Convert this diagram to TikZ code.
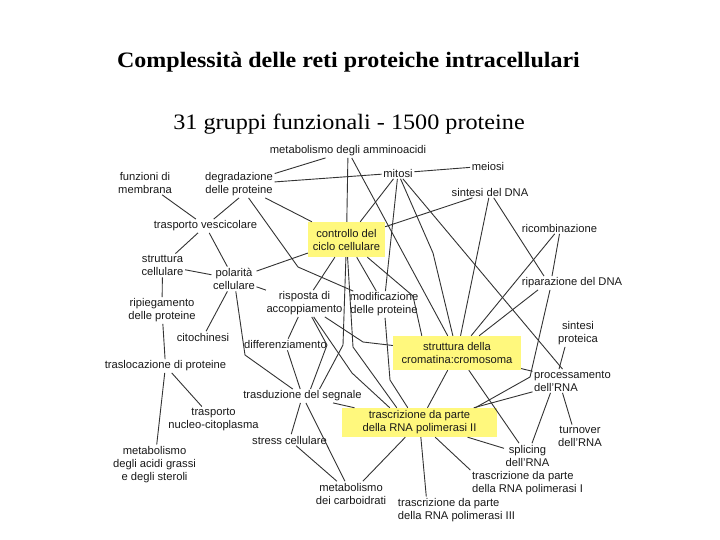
\documentclass[tikz,border=0pt]{standalone}
\usepackage{fontspec}
\usepackage{graphicx}
\setmainfont{Liberation Serif}
\newfontfamily\lsans{Liberation Sans}
\usetikzlibrary{calc}
\definecolor{boxyellow}{RGB}{255,248,125}
\newcommand\labfont{\lsans\fontsize{11.2bp}{13bp}\selectfont}
\begin{document}
\begin{tikzpicture}[x=1bp,y=-1bp,
  lbl/.style={font=\labfont, align=center, inner sep=1.5bp, text=black!90},
  lbll/.style={lbl, align=left},
  hl/.style={lbl, fill=boxyellow, inner sep=0pt},
  conn/.style={draw=black!80, line width=0.9bp}]
\useasboundingbox[fill=white] (0,0) rectangle (720,540);

% titles
\node[font=\fontsize{22bp}{26bp}\selectfont\bfseries, anchor=base] (title) at (348.5,68) {\scalebox{1.09}[1]{Complessità delle reti proteiche intracellulari}};
\node[font=\fontsize{22bp}{26bp}\selectfont, anchor=base] (subtitle) at (349,130) {\scalebox{1.1}[1]{31 gruppi funzionali - 1500 proteine}};

% nodes
\node[lbl] (metaa) at (348,151) {metabolismo degli amminoacidi};
\node[lbl] (funz) at (145,182.5) {funzioni di\\membrana};
\node[lbl] (degr) at (239,184.5) {degradazione\\delle proteine};
\node[lbl] (mitosi) at (398,173) {mitosi};
\node[lbl] (meiosi) at (488,166) {meiosi};
\node[lbl] (sdna) at (490,192) {sintesi del DNA};
\node[lbl] (trv) at (205.5,226) {trasporto vescicolare};
\node[lbl] (ricomb) at (559.5,228) {ricombinazione};
\node[hl, minimum width=77bp, minimum height=35bp] (ctrl) at (346.5,239.5) {controllo del\\ciclo cellulare};
\node[lbl] (strc) at (162.5,265.5) {struttura\\cellulare};
\node[lbl] (pol) at (234,279) {polarità\\cellulare};
\node[lbl] (ripar) at (572,283) {riparazione del DNA};
\node[lbl] (risp) at (304.5,303.5) {risposta di\\accoppiamento};
\node[lbl] (modif) at (384,304.5) {modificazione\\delle proteine};
\node[lbl] (ripieg) at (162,310.5) {ripiegamento\\delle proteine};
\node[lbl] (sprot) at (578,333.5) {sintesi\\proteica};
\node[lbl] (cito) at (203,337) {citochinesi};
\node[lbl] (diff) at (285.5,344.5) {differenziamento};
\node[hl, minimum width=128bp, minimum height=34bp] (crom) at (457,353) {struttura della\\cromatina:cromosoma};
\node[lbl] (trasl) at (165.5,366) {traslocazione di proteine};
\node[lbll] (proc) at (572.5,381) {processamento\\dell’RNA};
\node[lbl] (trasd) at (302.5,396) {trasduzione del segnale};
\node[lbl] (nucleo) at (213.5,419.5) {trasporto\\nucleo-citoplasma};
\node[hl, minimum width=155bp, minimum height=29bp] (trII) at (419.5,422.5) {trascrizione da parte\\della RNA polimerasi II};
\node[lbl] (turn) at (580,436.5) {turnover\\dell’RNA};
\node[lbl] (stress) at (289.5,440) {stress cellulare};
\node[lbl] (acidi) at (154.5,464.5) {metabolismo\\degli acidi grassi\\e degli steroli};
\node[lbl] (splic) at (527.5,455.5) {splicing\\dell’RNA};
\node[lbll] (trI) at (527.5,483.5) {trascrizione da parte\\della RNA polimerasi I};
\node[lbl] (carb) at (351,493.5) {metabolismo\\dei carboidrati};
\node[lbll] (trIII) at (456.5,510) {trascrizione da parte\\della RNA polimerasi III};

% bend points
\coordinate (b6) at (298,267);
\coordinate (b14) at (245,355);
\coordinate (b22) at (433,253);
\coordinate (b30) at (530,377);
\coordinate (b32) at (413,296);
\coordinate (b33) at (343,345);
\coordinate (b34) at (353,347);
\coordinate (b36) at (363,342);
\coordinate (b38) at (327,345);
\coordinate (b39) at (352,373);
\coordinate (b40) at (390,380);

% connectors
\draw[conn] (metaa) -- (degr);
\draw[conn] (mitosi) -- (degr);
\draw[conn] (funz) -- (trv);
\draw[conn] (degr.south) -- (trv);
\draw[conn] (degr) -- (ctrl);
\draw[conn] (degr) -- (b6) -- (modif);
\draw[conn] (trv) -- (strc);
\draw[conn] (trv) -- (pol);
\draw[conn] (strc) -- (pol);
\draw[conn] (pol) -- (ctrl);
\draw[conn] (pol) -- (risp);
\draw[conn] (strc) -- (ripieg);
\draw[conn] (pol) -- (cito);
\draw[conn] (pol) -- (b14) -- (trasd);
\draw[conn] (ctrl) -- (risp);
\draw[conn] (ripieg) -- (trasl);
\draw[conn] (metaa) -- (ctrl);
\draw[conn] (metaa) -- (crom);
\draw[conn] (mitosi) -- (meiosi);
\draw[conn] (mitosi) -- (ctrl);
\draw[conn] (mitosi) -- (modif);
\draw[conn] (mitosi) -- (b22) -- (crom);
\draw[conn] (mitosi) -- (proc);
\draw[conn] (sdna) -- (ctrl);
\draw[conn] (sdna) -- (crom);
\draw[conn] (sdna) -- ($(ripar.north)+(-28,0)$);
\draw[conn] (ricomb) -- (crom);
\draw[conn] (ricomb.south) -- ($(ripar.north)+(-20,0)$);
\draw[conn] ($(ripar.south)+(-34,0)$) -- (crom);
\draw[conn] ($(ripar.south)+(-22,0)$) -- (b30) -- ($(trII.north east)+(-22,0)$);
\draw[conn] (ctrl) -- (modif);
\draw[conn] (ctrl) -- (b32) -- ($(crom.north west)+(29,0)$);
\draw[conn] (ctrl) -- (b33) -- ($(trasd.north)+(17,0)$);
\draw[conn] (ctrl) -- (b34) -- ($(trII.north west)+(55,0)$);
\draw[conn] (risp) -- (b36) -- (crom);
\draw[conn] (risp) -- (diff);
\draw[conn] (risp) -- (b38) -- ($(trasd.north)+(8,0)$);
\draw[conn] (risp) -- (b39) -- ($(trII.north west)+(48,0)$);
\draw[conn] (modif) -- (b40) -- ($(trII.north west)+(66,0)$);
\draw[conn] (diff) -- (trasd);
\draw[conn] (trasd) -- (stress);
\draw[conn] (trasd) -- (carb);
\draw[conn] (stress) -- (carb);
\draw[conn] (trasd) -- (trII);
\draw[conn] (carb) -- (trII);
\draw[conn] (trII) -- ($(trIII.north west)+(30,0)$);
\draw[conn] (trII) -- (trI.north west);
\draw[conn] (trII) -- (splic);
\draw[conn] (crom) -- (trII);
\draw[conn] (crom) -- (splic);
\draw[conn] (crom) -- (proc);
\draw[conn] ($(proc.north)+(-13.5,0)$) -- ($(sprot.south)+(-13,0)$);
\draw[conn] ($(proc.south)+(-10,0)$) -- ($(turn.north)+(-8,0)$);
\draw[conn] ($(proc.south)+(-22,0)$) -- (splic);
\draw[conn] (proc) -- (trII);
\draw[conn] (trasl) -- (nucleo);
\draw[conn] (trasl) -- (acidi);
\end{tikzpicture}
\end{document}
